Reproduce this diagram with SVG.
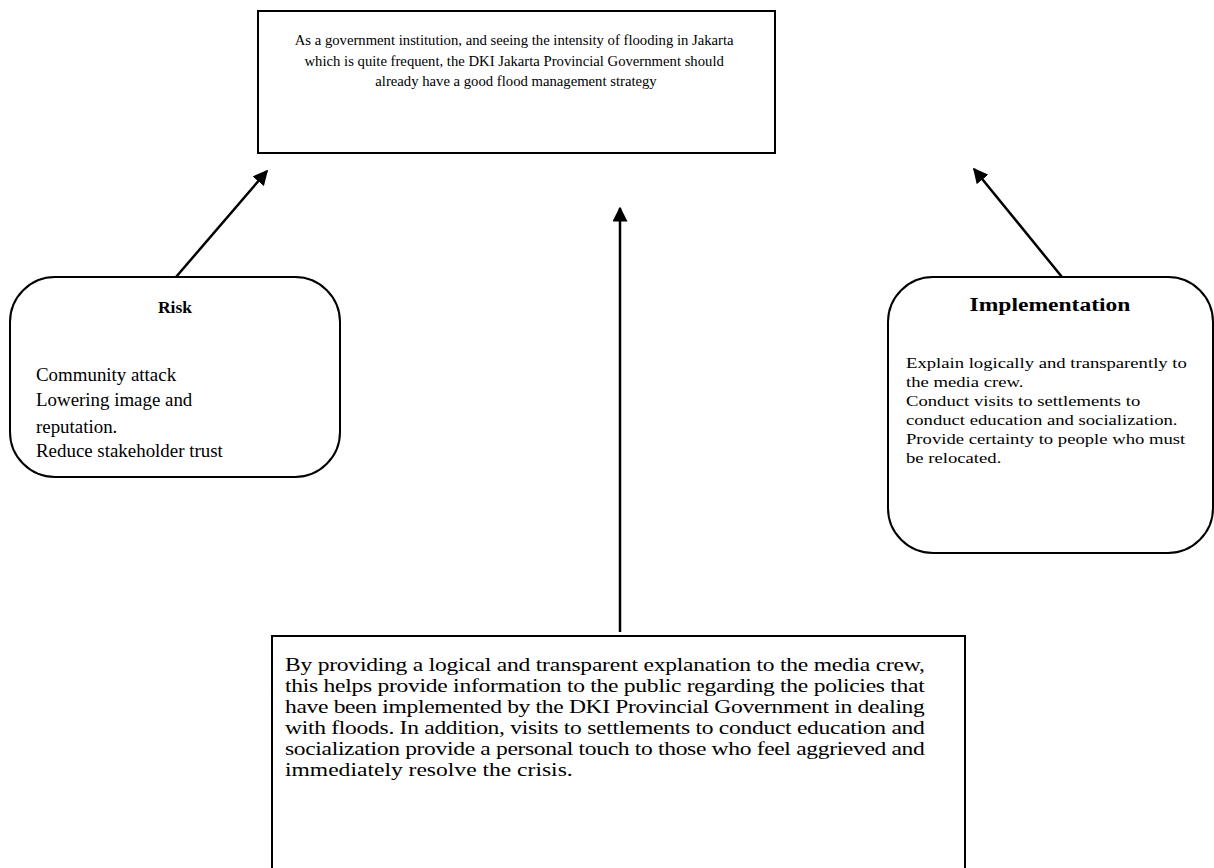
<svg xmlns="http://www.w3.org/2000/svg" width="1214" height="868" viewBox="0 0 1214 868">
<style>
.box{fill:#fff;stroke:#000;stroke-width:2}
.t{font-family:"Liberation Serif","Times New Roman",serif;fill:#000}
.c{stroke:#000;stroke-width:2.5;fill:none}
</style>
<defs>
<marker id="ah" viewBox="0 0 10 10" refX="9" refY="5" markerWidth="6" markerHeight="6" orient="auto">
<path d="M0,0 L10,5 L0,10 z" fill="#000"/>
</marker>
</defs>
<rect width="1214" height="868" fill="#fff"/>
<g id="connectors">
<line class="c" x1="176" y1="277" x2="267" y2="171" marker-end="url(#ah)"/>
<line class="c" x1="620" y1="632" x2="620" y2="208" marker-end="url(#ah)"/>
<line class="c" x1="1062" y1="277" x2="974" y2="169" marker-end="url(#ah)"/>
</g>
<g id="top">
<rect class="box" x="258" y="11" width="517" height="142"/>
<text class="t" font-size="14.7" text-anchor="middle">
<tspan x="516" y="45">As a government institution, and seeing the intensity of flooding in Jakarta</tspan>
<tspan x="516" y="65.5">which is quite frequent, the DKI Jakarta Provincial Government should</tspan>
<tspan x="516" y="86">already have a good flood management strategy</tspan>
</text>
</g>
<g id="risk">
<rect class="box" x="10" y="277" width="330" height="200" rx="45" ry="45"/>
<text class="t" font-size="17.5" font-weight="bold" text-anchor="middle" x="175" y="313">Risk</text>
<text class="t" font-size="18.9">
<tspan x="36" y="381">Community attack</tspan>
<tspan x="36" y="406">Lowering image and</tspan>
<tspan x="36" y="433">reputation.</tspan>
<tspan x="36" y="457">Reduce stakeholder trust</tspan>
</text>
</g>
<g id="implementation">
<rect class="box" x="888" y="277" width="325" height="276" rx="45" ry="45"/>
<text class="t" font-size="19" font-weight="bold" text-anchor="middle" x="1050" y="311" transform="matrix(1.24 0 0 1 -252 0)">Implementation</text>
<text class="t" font-size="15" transform="matrix(1.245 0 0 1 -221.97 0)">
<tspan x="906" y="368">Explain logically and transparently to</tspan>
<tspan x="906" y="387">the media crew.</tspan>
<tspan x="906" y="406">Conduct visits to settlements to</tspan>
<tspan x="906" y="425">conduct education and socialization.</tspan>
<tspan x="906" y="444">Provide certainty to people who must</tspan>
<tspan x="906" y="463">be relocated.</tspan>
</text>
</g>
<g id="summary">
<rect class="box" x="272" y="636" width="693" height="260"/>
<text class="t" font-size="19" transform="matrix(1.24 0 0 1 -68.4 0)">
<tspan x="285" y="671" textLength="516" lengthAdjust="spacing">By providing a logical and transparent explanation to the media crew,</tspan>
<tspan x="285" y="692" textLength="516" lengthAdjust="spacing">this helps provide information to the public regarding the policies that</tspan>
<tspan x="285" y="713" textLength="516" lengthAdjust="spacing">have been implemented by the DKI Provincial Government in dealing</tspan>
<tspan x="285" y="734" textLength="516" lengthAdjust="spacing">with floods. In addition, visits to settlements to conduct education and</tspan>
<tspan x="285" y="755" textLength="516" lengthAdjust="spacing">socialization provide a personal touch to those who feel aggrieved and</tspan>
<tspan x="285" y="776">immediately resolve the crisis.</tspan>
</text>
</g>
</svg>
